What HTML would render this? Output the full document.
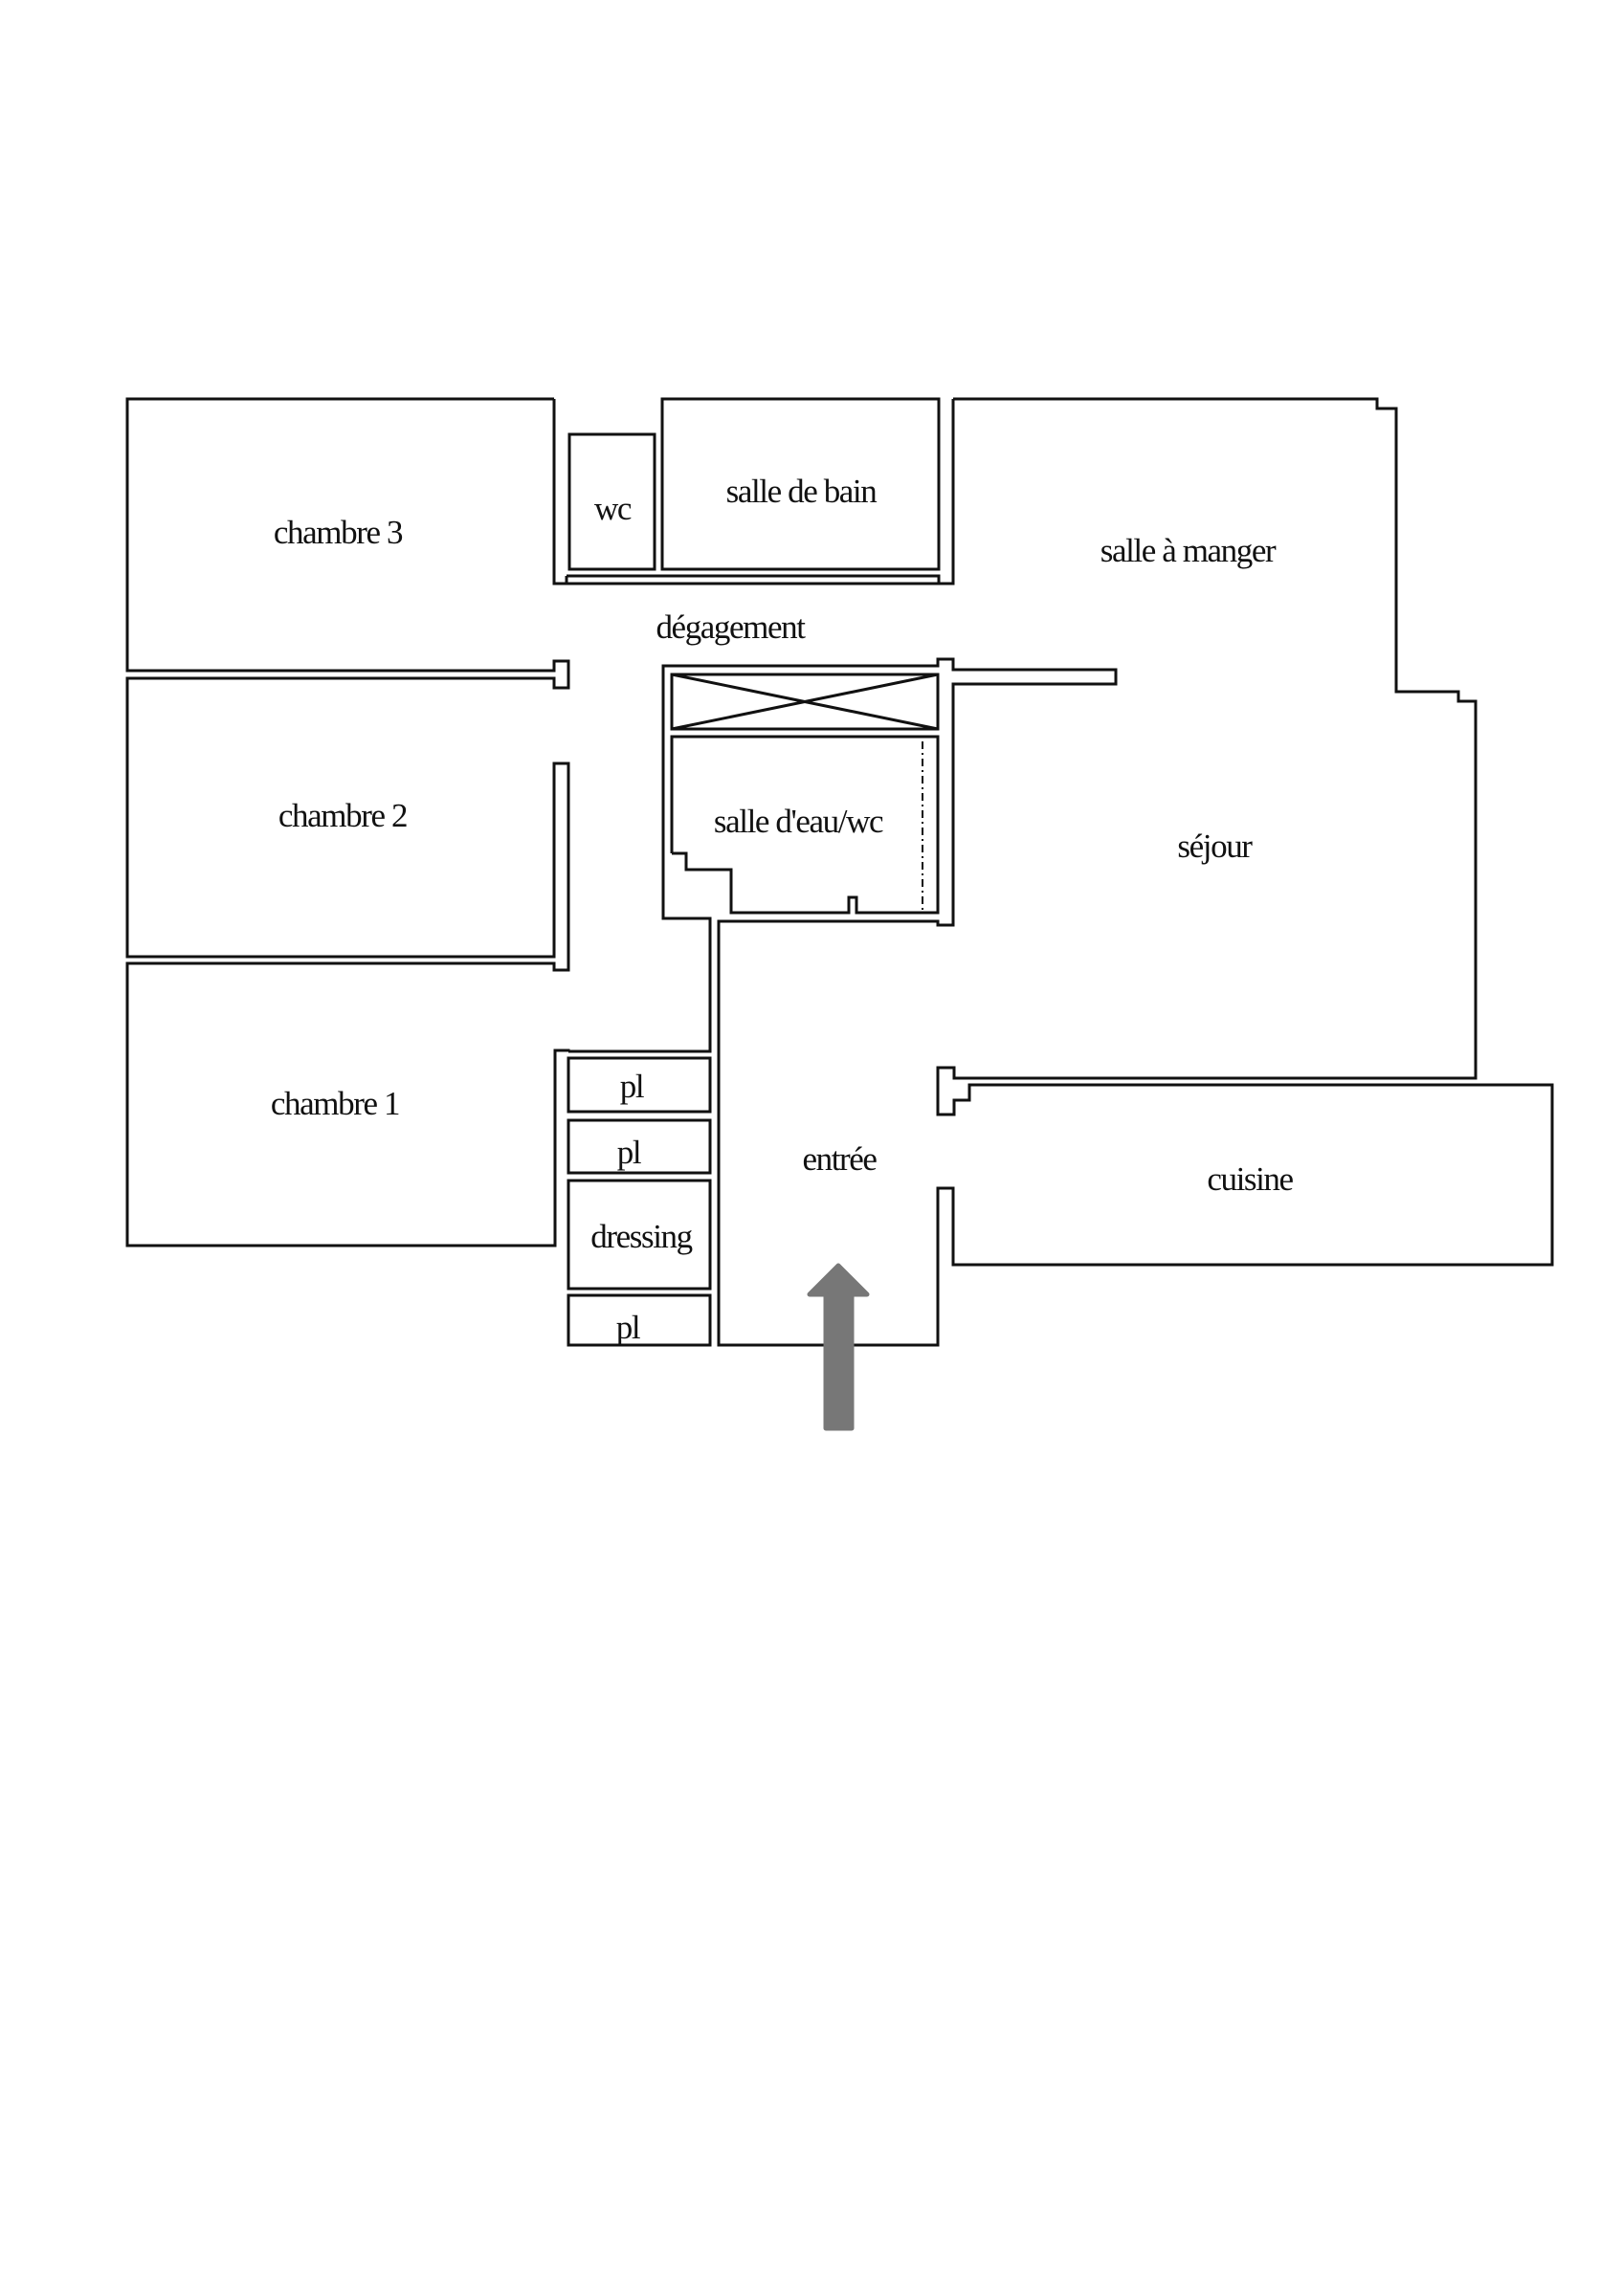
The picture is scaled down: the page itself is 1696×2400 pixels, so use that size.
<!DOCTYPE html>
<html><head><meta charset="utf-8"><style>
html,body{margin:0;padding:0;background:#fff}
svg{display:block}
text{font-family:"Liberation Serif",serif;font-size:35px;fill:#111;text-anchor:middle;letter-spacing:-1.4px}
</style></head><body>
<svg width="1696" height="2400" viewBox="0 0 1696 2400" xmlns="http://www.w3.org/2000/svg">
<g fill="none" stroke="#111" stroke-width="3">
<polyline points="579,417 133,417 133,701 579,701 579,691 594,691 594,719 579,719 579,709 133,709 133,1000 579,1000 579,798 594,798 594,1014 579,1014 579,1007 133,1007 133,1302 580,1302 580,1098 594,1098 594,1099"/>
<polyline points="579,417 579,610 592,610 592,602"/>
<polyline points="592,602 981,602 981,610"/>
<line x1="579" y1="610" x2="592" y2="610"/>
<polyline points="592,610 996,610 996,417"/>
<rect x="595" y="454" width="89" height="141"/>
<rect x="692" y="417" width="289" height="178"/>
<polyline points="996,417 1439,417 1439,427 1459,427 1459,723 1524,723 1524,733 1542,733 1542,1127 997,1127 997,1116 980,1116 980,1165 997,1165 997,1150 1013,1150 1013,1134 1622,1134 1622,1322 996,1322 996,1242 980,1242 980,1406 751,1406 751,963 980,963 980,967 996,967 996,715 1166,715 1166,700 996,700 996,689 980,689 980,696 693,696 693,960 742,960 742,1099 594,1099"/>
<rect x="702" y="705" width="278" height="57"/>
<line x1="702" y1="705" x2="980" y2="762"/>
<line x1="702" y1="762" x2="980" y2="705"/>
<polyline points="702,892 702,770 980,770 980,954 895,954 895,938 887,938 887,954 764,954 764,909 717,909 717,892 702,892"/>
<line x1="964" y1="775" x2="964" y2="952" stroke-width="2" stroke-dasharray="8,4,2,4"/>
<rect x="594" y="1106" width="148" height="56"/>
<rect x="594" y="1171" width="148" height="55"/>
<rect x="594" y="1234" width="148" height="113"/>
<rect x="594" y="1354" width="148" height="52"/>
</g>
<polygon points="876,1323 906,1353 890,1353 890,1493 863,1493 863,1353 846,1353" fill="#777" stroke="#777" stroke-width="5" stroke-linejoin="round"/>
<g>
<text x="353" y="568">chambre 3</text>
<text x="640" y="543">wc</text>
<text x="837" y="525">salle de bain</text>
<text x="1241" y="587">salle à manger</text>
<text x="763" y="667">dégagement</text>
<text x="358" y="864">chambre 2</text>
<text x="834" y="870">salle d'eau/wc</text>
<text x="1269" y="896">séjour</text>
<text x="350" y="1165">chambre 1</text>
<text x="660" y="1147">pl</text>
<text x="657" y="1216">pl</text>
<text x="670" y="1304">dressing</text>
<text x="656" y="1399">pl</text>
<text x="877" y="1223">entrée</text>
<text x="1306" y="1244">cuisine</text>
</g>
</svg>
</body></html>
